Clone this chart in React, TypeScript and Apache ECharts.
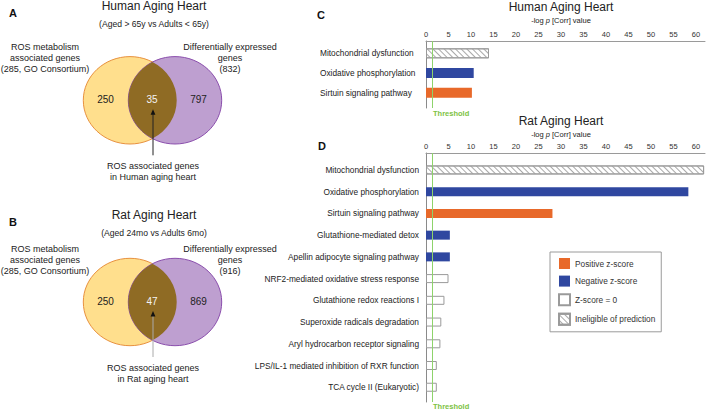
import React, { useEffect, useRef } from 'react';
import * as echarts from 'echarts';

// ---------- data ----------
const humanPathways = ['Mitochondrial dysfunction', 'Oxidative phosphorylation', 'Sirtuin signaling pathway'];
const humanValues = [14.0, 10.6, 10.2];
const humanZ = ['ineligible', 'negative', 'positive'];

const ratPathways = [
  'Mitochondrial dysfunction',
  'Oxidative phosphorylation',
  'Sirtuin signaling pathway',
  'Glutathione-mediated detox',
  'Apellin adipocyte signaling pathway',
  'NRF2-mediated oxidative stress response',
  'Glutathione redox reactions I',
  'Superoxide radicals degradation',
  'Aryl hydrocarbon receptor signaling',
  'LPS/IL-1 mediated inhibition of RXR function',
  'TCA cycle II (Eukaryotic)',
];
const ratValues = [61.8, 58.3, 28.1, 5.3, 5.3, 5.0, 4.1, 3.4, 3.2, 2.4, 2.4];
const ratZ = ['ineligible', 'negative', 'positive', 'negative', 'negative', 'zero', 'zero', 'zero', 'zero', 'zero', 'zero'];

const zKeys = ['positive', 'negative', 'zero', 'ineligible'];
const zNames = ['Positive z-score', 'Negative z-score', 'Z-score = 0', 'Ineligible of prediction'];

const axisMax = 62;
const axisInterval = 5;
const axisLabelMax = 60;
const threshold = 1.3;

const barTitles = ['Human Aging Heart', 'Rat Aging Heart'];
const vennTitles = ['Human Aging Heart', 'Rat Aging Heart'];
const vennSubtitles = ['(Aged > 65y vs Adults < 65y)', '(Aged 24mo vs Adults 6mo)'];
const vennRosOnly = [250, 250];
const vennOverlap = [35, 47];
const vennDegOnly = [797, 869];
const vennDegTotal = [832, 916];
const vennRosTotal = 285;
const vennBottom = [
  ['ROS associated genes', 'in Human aging heart'],
  ['ROS associated genes', 'in Rat aging heart'],
];

// ---------- styles ----------
const FONT = 'Liberation Sans, Arial, Helvetica, sans-serif';
const hatch = {
  symbol: 'rect',
  symbolSize: 1,
  color: '#a8a8a8',
  backgroundColor: '#ffffff',
  dashArrayX: [1, 0],
  dashArrayY: [1, 2.5],
  rotation: Math.PI / 4,
};
const zStyles: Record<string, any> = {
  positive: { color: '#E8692A' },
  negative: { color: '#2F47A0' },
  zero: { color: '#ffffff', borderColor: '#9a9a9a', borderWidth: 1 },
  ineligible: { color: '#ffffff', borderColor: '#9a9a9a', borderWidth: 1, decal: hatch },
};

const lensR = { rx: 46.7, ry: 43.7, half: 38.3 };
echarts.graphic.registerShape(
  'vennLens',
  echarts.graphic.extendPath(
    `M0 ${-lensR.half} A${lensR.rx} ${lensR.ry} 0 0 1 0 ${lensR.half} A${lensR.rx} ${lensR.ry} 0 0 1 0 ${-lensR.half} Z`,
    {}
  )
);

function txt(x: number, y: number, text: string, o: any = {}) {
  return {
    type: 'text',
    x,
    y,
    silent: true,
    style: {
      text,
      fontFamily: FONT,
      fontSize: 9,
      fill: '#222',
      align: 'center',
      verticalAlign: 'middle',
      ...o,
    },
  };
}

function venn(i: number, cy: number, titleY: number, arrowGray: boolean) {
  const lx = 130;
  const rx = 175;
  const mx = 152.5;
  const els: any[] = [];
  els.push(txt(154, titleY, vennTitles[i], { fontSize: 12 }));
  els.push(txt(154, titleY + 18, vennSubtitles[i], { fontSize: 8.6 }));
  const ly = cy - 53;
  ['ROS metabolism', 'associated genes', `(${vennRosTotal}, GO Consortium)`].forEach((t, k) =>
    els.push(txt(45, ly + k * 11, t))
  );
  ['Differentially expressed', 'genes', `(${vennDegTotal[i]})`].forEach((t, k) =>
    els.push(txt(230, ly + k * 11, t))
  );
  els.push({ type: 'ellipse', shape: { cx: lx, cy, rx: lensR.rx, ry: lensR.ry }, style: { fill: '#FFDF8D', stroke: '#E8913F', lineWidth: 1 } });
  els.push({ type: 'ellipse', shape: { cx: rx, cy, rx: lensR.rx, ry: lensR.ry }, style: { fill: '#BE9FD0', stroke: '#8B4FAD', lineWidth: 1 } });
  els.push({ type: 'vennLens', x: mx, y: cy, style: { fill: '#8F6B24' } });
  els.push(txt(105.5, cy - 1, String(vennRosOnly[i]), { fontSize: 10 }));
  els.push(txt(152, cy - 1, String(vennOverlap[i]), { fontSize: 10, fill: '#f4f4f4' }));
  els.push(txt(198.5, cy - 1, String(vennDegOnly[i]), { fontSize: 10 }));
  els.push({ type: 'line', shape: { x1: 153, y1: cy + 14, x2: 153, y2: cy + 55 }, style: { stroke: arrowGray ? '#aaaaaa' : '#222', lineWidth: 1 } });
  els.push({ type: 'polygon', shape: { points: [[153, cy + 9], [150.6, cy + 14.5], [155.4, cy + 14.5]] }, style: { fill: '#111' } });
  els.push(txt(153, cy + 66, vennBottom[i][0]));
  els.push(txt(153, cy + 76.5, vennBottom[i][1]));
  return els;
}

function buildOption() {
  const gridLeft = 426;
  const gridRight = 709 - (426 + axisMax * 4.5);
  const frames = [
    { top: 41, height: 67 },
    { top: 153, height: 249 },
  ];
  const datas = [
    { top: 43.5, height: 59 },
    { top: 159.1, height: 239 },
  ];
  const grid: any[] = [];
  const xAxis: any[] = [];
  const yAxis: any[] = [];
  const series: any[] = [];
  const panels = [
    { cats: humanPathways, vals: humanValues, z: humanZ, barWidth: 10, labelAlign: 'left', margin: 106 },
    { cats: ratPathways, vals: ratValues, z: ratZ, barWidth: 9, labelAlign: 'right', margin: 7 },
  ];
  panels.forEach((p, pi) => {
    const fIdx = pi * 2;
    const dIdx = pi * 2 + 1;
    grid.push({ left: gridLeft, right: gridRight, top: frames[pi].top, height: frames[pi].height, containLabel: false });
    grid.push({ left: gridLeft, right: gridRight, top: datas[pi].top, height: datas[pi].height, containLabel: false });
    xAxis.push({
      gridIndex: fIdx,
      type: 'value',
      position: 'top',
      min: 0,
      max: axisMax,
      interval: axisInterval,
      axisLine: { show: true, onZero: false, lineStyle: { color: '#9a9a9a', width: 1 } },
      axisTick: { show: false },
      splitLine: { show: false },
      axisLabel: {
        margin: 3,
        fontSize: 7.5,
        color: '#333',
        fontFamily: FONT,
        formatter: (v: number) => (v % axisInterval === 0 && v <= axisLabelMax ? String(v) : ''),
      },
    });
    xAxis.push({ gridIndex: dIdx, type: 'value', min: 0, max: axisMax, show: false });
    yAxis.push({
      gridIndex: fIdx,
      type: 'value',
      min: 0,
      max: 1,
      axisLine: { show: true, lineStyle: { color: '#8a8a8a', width: 1 } },
      axisTick: { show: false },
      axisLabel: { show: false },
      splitLine: { show: false },
    });
    yAxis.push({
      gridIndex: dIdx,
      type: 'category',
      data: p.cats,
      inverse: true,
      axisLine: { show: false },
      axisTick: { show: false },
      splitLine: { show: false },
      axisLabel: {
        align: p.labelAlign,
        margin: p.margin,
        fontSize: 8.3,
        color: '#222',
        fontFamily: FONT,
      },
    });
    zKeys.forEach((k, ki) => {
      series.push({
        type: 'bar',
        name: zNames[ki],
        xAxisIndex: dIdx,
        yAxisIndex: dIdx,
        stack: 'panel' + pi,
        barWidth: p.barWidth,
        itemStyle: zStyles[k],
        data: p.vals.map((v, i) => (p.z[i] === k ? v : '-')),
      });
    });
    series.push({
      type: 'line',
      name: 'Threshold',
      xAxisIndex: fIdx,
      yAxisIndex: fIdx,
      data: [],
      z: 10,
      markLine: {
        silent: true,
        symbol: ['none', 'none'],
        lineStyle: { color: '#8ED36B', width: 1, type: 'solid' },
        label: { show: false },
        data: [{ xAxis: threshold }],
      },
    });
  });

  const axisCenter = gridLeft + (axisLabelMax * 4.5) / 2;
  const graphic: any[] = [
    txt(13, 13, 'A', { fontSize: 11, fontWeight: 'bold', fill: '#111' }),
    txt(13, 222, 'B', { fontSize: 11, fontWeight: 'bold', fill: '#111' }),
    txt(321, 15, 'C', { fontSize: 11, fontWeight: 'bold', fill: '#111' }),
    txt(322, 146, 'D', { fontSize: 11, fontWeight: 'bold', fill: '#111' }),
    txt(axisCenter, 7, barTitles[0], { fontSize: 12 }),
    txt(axisCenter, 20, '-log {i|p} [Corr] value', { fontSize: 7.5, rich: { i: { fontStyle: 'italic', fontSize: 7.5, fontFamily: FONT } } }),
    txt(axisCenter, 121, barTitles[1], { fontSize: 12 }),
    txt(axisCenter, 134, '-log {i|p} [Corr] value', { fontSize: 7.5, rich: { i: { fontStyle: 'italic', fontSize: 7.5, fontFamily: FONT } } }),
    txt(433, 113, 'Threshold', { fontSize: 7.5, fontWeight: 'bold', fill: '#7DC242', align: 'left' }),
    txt(433, 406, 'Threshold', { fontSize: 7.5, fontWeight: 'bold', fill: '#7DC242', align: 'left' }),
    ...venn(0, 100.3, 6, false),
    ...venn(1, 302, 215, true),
  ];

  return {
    animation: false,
    textStyle: { fontFamily: FONT },
    grid,
    xAxis,
    yAxis,
    series,
    legend: {
      data: zNames,
      orient: 'vertical',
      left: 550,
      top: 252,
      itemWidth: 11,
      itemHeight: 11,
      itemGap: 6.6,
      padding: [6, 6, 6, 8],
      borderColor: '#9a9a9a',
      borderWidth: 1,
      selectedMode: false,
      icon: 'rect',
      textStyle: { fontSize: 8.3, color: '#333', fontFamily: FONT },
    },
    graphic,
  };
}

export default function App() {
  const ref = useRef<HTMLDivElement>(null);
  useEffect(() => {
    if (!ref.current) return;
    const chart = echarts.init(ref.current, undefined, { renderer: 'svg' });
    chart.setOption(buildOption() as any);
    return () => chart.dispose();
  }, []);
  return (
    <div
      ref={ref}
      style={{ position: 'fixed', left: 0, top: 0, width: 709, height: 409, background: '#fff' }}
    />
  );
}
